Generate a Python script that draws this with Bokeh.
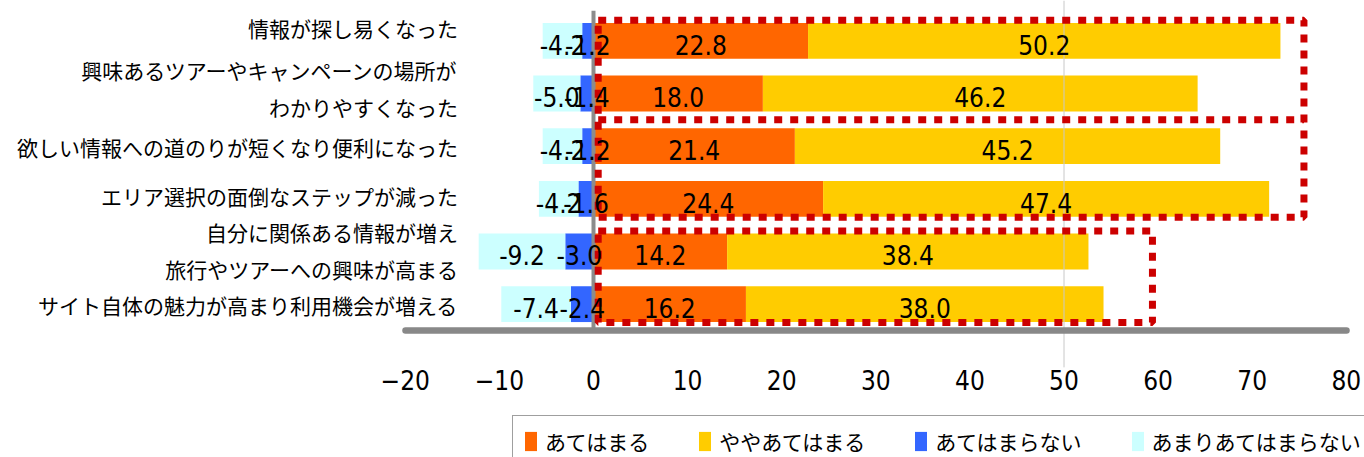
from bokeh.plotting import figure
from bokeh.models import Range1d, FixedTicker, Legend, LegendItem, ColumnDataSource
from bokeh.core.properties import value
from bokeh.embed import file_html
from bokeh.resources import INLINE

# ---------------- data ----------------
categories = [
    "情報が探し易くなった",
    "興味あるツアーやキャンペーンの場所が\nわかりやすくなった",
    "欲しい情報への道のりが短くなり便利になった",
    "エリア選択の面倒なステップが減った",
    "自分に関係ある情報が増え\n旅行やツアーへの興味が高まる",
    "サイト自体の魅力が高まり利用機会が増える",
]
applies = [22.8, 18.0, 21.4, 24.4, 14.2, 16.2]            # あてはまる
somewhat_applies = [50.2, 46.2, 45.2, 47.4, 38.4, 38.0]   # ややあてはまる
not_applies = [-1.2, -1.4, -1.2, -1.6, -3.0, -2.4]        # あてはまらない
rarely_applies = [-4.2, -5.0, -4.2, -4.2, -9.2, -7.4]     # あまりあてはまらない
series_names = ["あてはまる", "ややあてはまる", "あてはまらない", "あまりあてはまらない"]
x_ticks = [-20, -10, 0, 10, 20, 30, 40, 50, 60, 70, 80]

# highlight boxes (row spans, right end in value units), divider between rows
highlight_rows = [(0, 3), (4, 5)]
highlight_right = [75.5, 59.4]
highlight_divider_after = [1]

# ---------------- styles / layout ----------------
COLORS = ["#FF6600", "#FFCC00", "#3366FF", "#CCFFFF"]
NARROW = "'DejaVu Sans Condensed', 'Liberation Sans Narrow', 'Liberation Sans', sans-serif"
JP = "Noto Sans CJK JP"
label_nudge_px = [-13, -5, 1, -3, -1, 1]

W, H = 1364, 457
zero_px, px_per_unit = 593, 9.41
row0_px, row_px = 40.3, 52.67
rows = list(range(len(categories)))
axis_row = len(rows) - 0.5

p = figure(width=W, height=H, output_backend="svg", toolbar_location=None,
           x_range=Range1d(-zero_px / px_per_unit, (W - zero_px) / px_per_unit),
           y_range=Range1d((H - row0_px) / row_px, -row0_px / row_px),
           y_axis_location=None,
           min_border_left=0, min_border_right=0, min_border_top=0, min_border_bottom=0)
p.outline_line_color = None
p.xgrid.visible = False
p.ygrid.visible = False
p.background_fill_color = "white"

# stacked segments
seg_left = [
    [0] * len(rows),
    applies,
    not_applies,
    [a + b for a, b in zip(not_applies, rarely_applies)],
]
seg_right = [
    applies,
    [a + b for a, b in zip(applies, somewhat_applies)],
    [0] * len(rows),
    not_applies,
]
seg_vals = [applies, somewhat_applies, not_applies, rarely_applies]

renderers = []
for k in range(4):
    src = ColumnDataSource(dict(y=rows, left=seg_left[k], right=seg_right[k]))
    r = p.hbar(y="y", left="left", right="right", height=0.68, source=src,
               fill_color=COLORS[k], line_color=None)
    renderers.append(r)

# 50 gridline and zero line
y_top = -row0_px / row_px
p.segment(x0=[50], x1=[50], y0=[y_top], y1=[axis_row + 0.7], line_color="#c8c8c8", line_width=1)
p.segment(x0=[0], x1=[0], y0=[-0.57], y1=[axis_row], line_color="#8c8c8c", line_width=4)

# red dotted highlight boxes
for (r0, r1), xr in zip(highlight_rows, highlight_right):
    p.quad(left=[0.5], right=[xr], top=[r0 - 0.39], bottom=[r1 + 0.35],
           fill_color=None, line_color="#CC0000", line_width=7, line_dash="8 8")
for d in highlight_divider_after:
    p.segment(x0=[0.5], x1=[highlight_right[0]], y0=[d + 0.5], y1=[d + 0.5],
              line_color="#CC0000", line_width=7, line_dash="8 8")

# data labels
for k in range(4):
    xs = [(a + b) / 2 for a, b in zip(seg_left[k], seg_right[k])]
    txt = [f"{v:.1f}" for v in seg_vals[k]]
    p.text(x=xs, y=rows, text=txt, text_align="center", text_baseline="middle",
           y_offset=4, text_font=value(NARROW), text_font_size="26px", text_color="black")

# category labels (left)
p.text(x=[-14.4] * len(rows), y=rows, text=categories, y_offset=label_nudge_px,
       text_align="right", text_baseline="middle", text_font=value(JP),
       text_font_size="21px", text_color="black", text_line_height=1.22)

# x axis drawn at the bottom of the bars
ax = p.xaxis[0]
ax.fixed_location = axis_row
ax.ticker = FixedTicker(ticks=x_ticks)
ax.bounds = (-20, 80)
ax.axis_line_color = "#888888"
ax.axis_line_width = 6.5
ax.axis_line_cap = "round"
ax.major_tick_line_color = None
ax.minor_tick_line_color = None
ax.major_tick_out = 0
ax.major_tick_in = 0
ax.major_label_standoff = 40
ax.major_label_text_font = NARROW
ax.major_label_text_font_size = "26px"
ax.major_label_text_color = "black"

legend = Legend(items=[LegendItem(label=n, renderers=[r]) for n, r in zip(series_names, renderers)],
                orientation="horizontal", location=(512, -10),
                glyph_width=15, glyph_height=24, label_standoff=7, spacing=48,
                padding=10, margin=0, border_line_color="#404040", border_line_width=1.5,
                label_text_font=JP, label_text_font_size="21px", label_text_color="black",
                background_fill_color="white", background_fill_alpha=1)
p.add_layout(legend, "center")

open("out.html", "w").write(file_html(p, INLINE))
